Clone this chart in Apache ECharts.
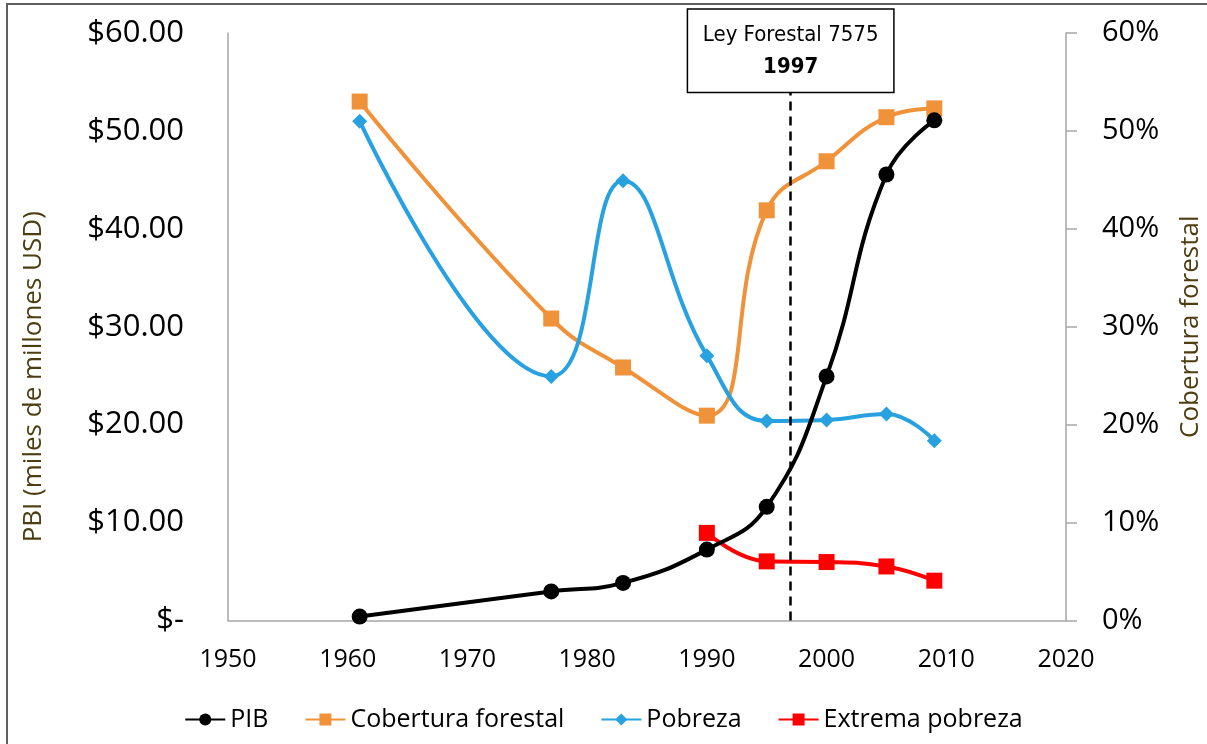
<!DOCTYPE html>
<html>
<head>
<meta charset="utf-8">
<script src="https://cdn.jsdelivr.net/npm/echarts@6/dist/echarts.min.js"></script>
<style>
  html, body { margin: 0; padding: 0; background: #fff; }
  #chart { width: 1207px; height: 744px; }
</style>
</head>
<body>
<div id="chart"></div>
<script>
// Years of each observation
const years = [1961, 1977, 1983, 1990, 1995, 2000, 2005, 2009];
const extremaYears = [1990, 1995, 2000, 2005, 2009];

// GDP, thousands of millions USD
const pib = [0.4, 2.97, 3.84, 7.24, 11.61, 24.93, 45.55, 51.08];
// Forest cover, %
const cobertura = [53.0, 30.84, 25.84, 20.92, 41.89, 46.9, 51.4, 52.3];
// Poverty, %
const pobreza = [51.0, 24.93, 44.9, 27.05, 20.38, 20.48, 21.1, 18.37];
// Extreme poverty, %
const extrema = [8.95, 6.04, 5.97, 5.52, 4.07];

// Forest law marker
const leyAnio = 1997;
const leyTexto = 'Ley Forestal 7575';
const leyTope = 54;

const xTicks = { min: 1950, max: 2020, interval: 10 };
const yTicks = { min: 0, max: 60, interval: 10 };

const pairs = (xs, ys) => xs.map((x, i) => [x, ys[i]]);

const FONT = '"Open Sans", "Noto Sans", sans-serif';
const NARROW = '"Liberation Sans Narrow", "DejaVu Sans Condensed", "Liberation Sans", sans-serif';
const AXIS_GREY = '#a6a6a6';

const chart = echarts.init(document.getElementById('chart'), null, { renderer: 'canvas' });

const lineSeries = (name, data, color, symbol, size, axis) => ({
  name,
  type: 'line',
  yAxisIndex: axis,
  data,
  smooth: 0.45,
  symbol,
  symbolSize: size,
  lineStyle: { color, width: 4 },
  itemStyle: { color },
  z: 3
});

chart.setOption({
  animation: false,
  backgroundColor: '#fff',
  graphic: [{
    type: 'rect',
    shape: { x: 7, y: 4, width: 1230, height: 780 },
    style: { fill: 'none', stroke: '#5f5f5f', lineWidth: 2 },
    silent: true
  }],
  grid: { left: 228, right: 141, top: 33, bottom: 123.5, outerBoundsMode: 'none' },
  legend: {
    left: 'center',
    top: 702,
    itemWidth: 40,
    itemHeight: 15,
    itemGap: 36,
    textStyle: { fontFamily: FONT, fontSize: 25, color: '#000' },
    data: ['PIB', 'Cobertura forestal', 'Pobreza', 'Extrema pobreza']
  },
  xAxis: {
    type: 'value',
    min: xTicks.min, max: xTicks.max, interval: xTicks.interval,
    axisLine: { show: true, lineStyle: { color: AXIS_GREY, width: 1.5 } },
    axisTick: { show: false },
    splitLine: { show: false },
    axisLabel: {
      margin: 27,
      fontFamily: FONT, fontSize: 25, color: '#000',
      formatter: v => String(v)
    }
  },
  yAxis: [{
    type: 'value',
    position: 'left',
    min: yTicks.min, max: yTicks.max, interval: yTicks.interval,
    name: 'PBI (miles de millones USD)',
    nameLocation: 'middle',
    nameRotate: 90,
    nameGap: 181,
    nameTextStyle: { fontFamily: FONT, fontSize: 26, color: '#4d3d10', padding: [0, 100, 0, 0] },
    axisLine: { show: true, lineStyle: { color: AXIS_GREY, width: 1.5 } },
    axisTick: { show: false },
    splitLine: { show: false },
    axisLabel: {
      margin: 44,
      fontFamily: FONT, fontSize: 31, color: '#000',
      formatter: v => v === 0 ? '$-' : '$' + v.toFixed(2)
    }
  }, {
    type: 'value',
    position: 'right',
    min: yTicks.min, max: yTicks.max, interval: yTicks.interval,
    name: 'Cobertura forestal',
    nameLocation: 'middle',
    nameRotate: 90,
    nameGap: 112,
    nameTextStyle: { fontFamily: FONT, fontSize: 26, color: '#4d3d10' },
    axisLine: { show: true, lineStyle: { color: AXIS_GREY, width: 1.5 } },
    axisTick: { show: true, inside: false, length: 11, lineStyle: { color: AXIS_GREY, width: 1.5 } },
    splitLine: { show: false },
    axisLabel: {
      margin: 36,
      fontFamily: FONT, fontSize: 29, color: '#000',
      formatter: '{value}%'
    }
  }],
  series: [
    Object.assign(lineSeries('PIB', pairs(years, pib), '#000000', 'circle', 16, 0), {
      z: 4,
      markLine: {
        silent: true,
        symbol: ['none', 'none'],
        lineStyle: { color: '#000', width: 2.5, type: [9, 6] },
        label: {
          show: true,
          position: 'end',
          distance: 0,
          width: 155,
          formatter: '{a|' + leyTexto + '}\n{b|' + leyAnio + '}',
          backgroundColor: '#fff',
          borderColor: '#000',
          borderWidth: 1.5,
          padding: [10, 25, 8, 25],
          rich: {
            a: { fontFamily: NARROW, fontSize: 22, color: '#000', lineHeight: 32, align: 'center' },
            b: { fontFamily: NARROW, fontSize: 22, fontWeight: 'bold', color: '#000', lineHeight: 32, align: 'center' }
          }
        },
        data: [[{ coord: [leyAnio, 0] }, { coord: [leyAnio, leyTope] }]]
      }
    }),
    lineSeries('Cobertura forestal', pairs(years, cobertura), '#f0923a', 'rect', 16, 1),
    lineSeries('Pobreza', pairs(years, pobreza), '#27a1df', 'diamond', 15, 1),
    lineSeries('Extrema pobreza', pairs(extremaYears, extrema), '#ff0000', 'rect', 16, 1)
  ]
});
</script>
</body>
</html>
